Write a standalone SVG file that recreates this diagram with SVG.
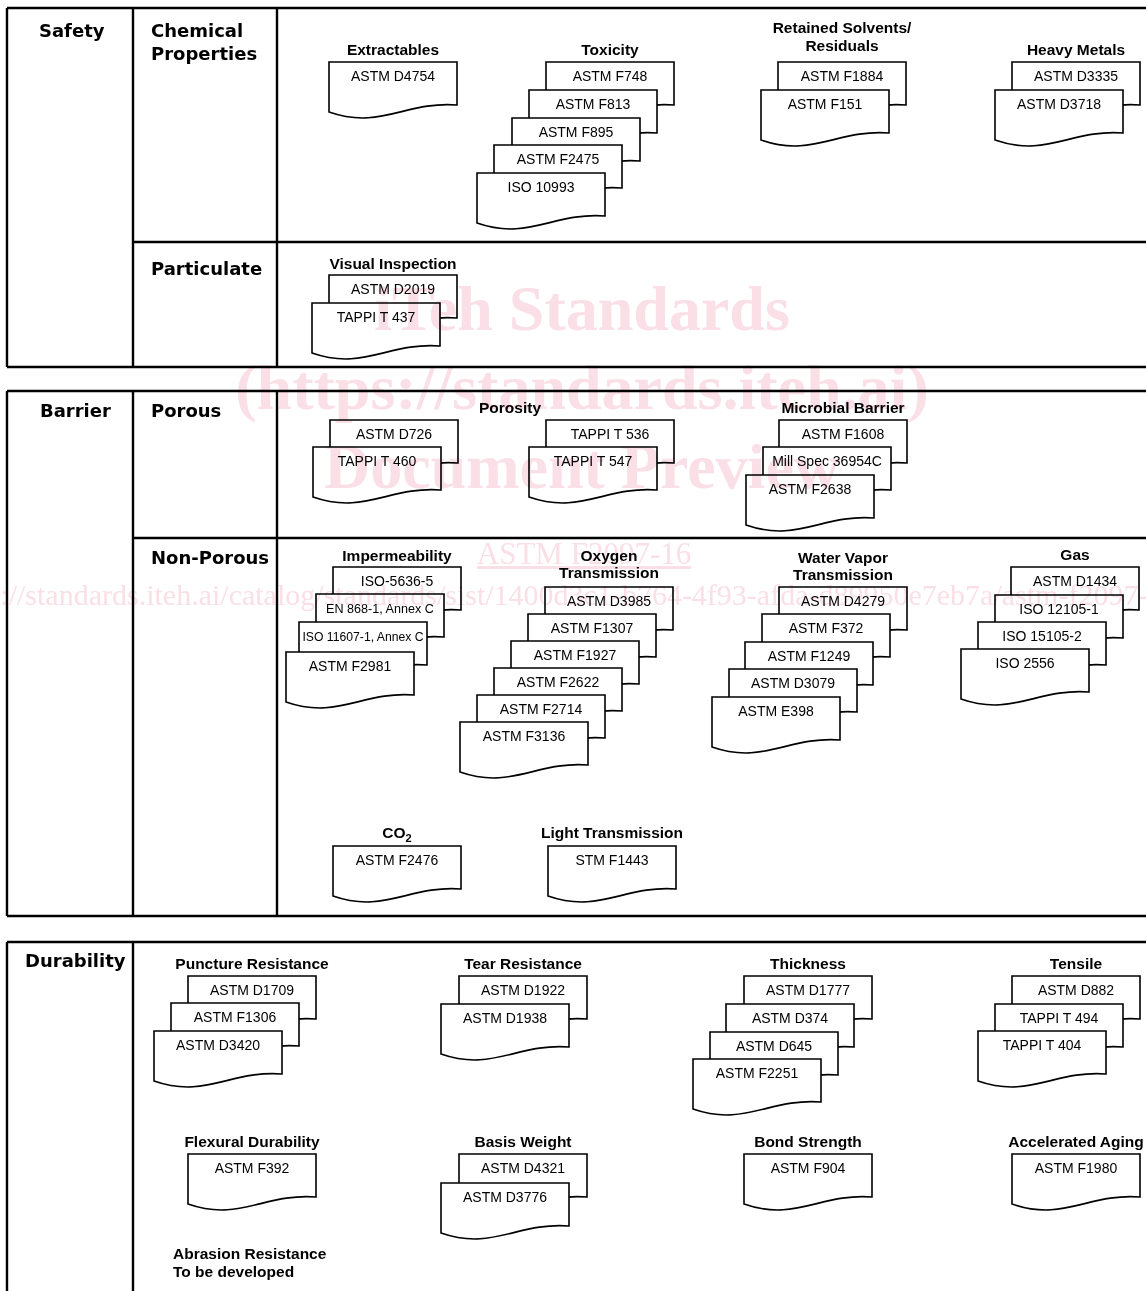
<svg xmlns="http://www.w3.org/2000/svg" xmlns:xlink="http://www.w3.org/1999/xlink" width="1146" height="1291" viewBox="0 0 1146 1291">
<style>
.tbl{stroke:#000;stroke-width:2.4;fill:none}
.doc{fill:#fff;stroke:#000;stroke-width:1.6}
.bt{font-family:"Liberation Sans",Arial,sans-serif;font-size:14px;text-anchor:middle;fill:#000}
.hd{font-family:"Liberation Sans",Arial,sans-serif;font-weight:bold;font-size:15.5px;text-anchor:middle;fill:#000}
.hl{font-family:"Liberation Sans",Arial,sans-serif;font-weight:bold;font-size:15.5px;fill:#000}
.big{font-family:"DejaVu Sans",Verdana,sans-serif;font-weight:bold;font-size:18px;fill:#000}
.wm{font-family:"Liberation Serif","Times New Roman",serif;fill:#fadfe6;mix-blend-mode:multiply}
.wmb{font-weight:bold;font-size:64px;text-anchor:middle}
</style>
<defs>
<path id="doc" d="M0,0 H128 V43 C76.8,39 51.2,68 0,50 Z"/>
</defs>
<rect width="1146" height="1291" fill="#fff"/>

<g id="grid">
<path class="tbl" d="M7,8 H1146 M7,8 V367 M133,8 V367 M277,8 V367 M133,242 H1146 M7,367 H1146"/>
<path class="tbl" d="M7,391 H1146 M7,391 V916 M133,391 V916 M277,391 V916 M133,538 H1146 M7,916 H1146"/>
<path class="tbl" d="M7,942 H1146 M7,942 V1291 M133,942 V1291"/>
</g>

<g id="labels">
<text class="big" x="39" y="37">Safety</text>
<text class="big" x="151" y="37">Chemical</text>
<text class="big" x="151" y="60">Properties</text>
<text class="big" x="151" y="275">Particulate</text>
<text class="big" x="40" y="417">Barrier</text>
<text class="big" x="151" y="417">Porous</text>
<text class="big" x="151" y="564">Non-Porous</text>
<text class="big" x="25" y="967">Durability</text>
</g>

<g id="connectors"></g>

<g id="extractables">
<text class="hd" x="393" y="55">Extractables</text>
<g id="astm-d4754"><use href="#doc" class="doc" x="329" y="62"/><text class="bt" x="393" y="81">ASTM D4754</text></g>
</g>

<g id="toxicity">
<text class="hd" x="610" y="55">Toxicity</text>
<g id="astm-f748"><use href="#doc" class="doc" x="546" y="62"/><text class="bt" x="610" y="81">ASTM F748</text></g>
<g id="astm-f813"><use href="#doc" class="doc" x="529" y="90"/><text class="bt" x="593" y="109">ASTM F813</text></g>
<g id="astm-f895"><use href="#doc" class="doc" x="512" y="118"/><text class="bt" x="576" y="137">ASTM F895</text></g>
<g id="astm-f2475"><use href="#doc" class="doc" x="494" y="145"/><text class="bt" x="558" y="164">ASTM F2475</text></g>
<g id="iso-10993"><use href="#doc" class="doc" x="477" y="173"/><text class="bt" x="541" y="192">ISO 10993</text></g>
</g>

<g id="retained">
<text class="hd" x="842" y="33">Retained Solvents/</text>
<text class="hd" x="842" y="51">Residuals</text>
<g id="astm-f1884"><use href="#doc" class="doc" x="778" y="62"/><text class="bt" x="842" y="81">ASTM F1884</text></g>
<g id="astm-f151"><use href="#doc" class="doc" x="761" y="90"/><text class="bt" x="825" y="109">ASTM F151</text></g>
</g>

<g id="heavy-metals">
<text class="hd" x="1076" y="55">Heavy Metals</text>
<g id="astm-d3335"><use href="#doc" class="doc" x="1012" y="62"/><text class="bt" x="1076" y="81">ASTM D3335</text></g>
<g id="astm-d3718"><use href="#doc" class="doc" x="995" y="90"/><text class="bt" x="1059" y="109">ASTM D3718</text></g>
</g>

<g id="visual-inspection">
<text class="hd" x="393" y="269">Visual Inspection</text>
<g id="astm-d2019"><use href="#doc" class="doc" x="329" y="275"/><text class="bt" x="393" y="294">ASTM D2019</text></g>
<g id="tappi-t437"><use href="#doc" class="doc" x="312" y="303"/><text class="bt" x="376" y="322">TAPPI T 437</text></g>
</g>

<g id="porosity">
<text class="hd" x="510" y="413">Porosity</text>
<g id="astm-d726"><use href="#doc" class="doc" x="330" y="420"/><text class="bt" x="394" y="439">ASTM D726</text></g>
<g id="tappi-t460"><use href="#doc" class="doc" x="313" y="447"/><text class="bt" x="377" y="466">TAPPI T 460</text></g>
<g id="tappi-t536"><use href="#doc" class="doc" x="546" y="420"/><text class="bt" x="610" y="439">TAPPI T 536</text></g>
<g id="tappi-t547"><use href="#doc" class="doc" x="529" y="447"/><text class="bt" x="593" y="466">TAPPI T 547</text></g>
</g>

<g id="microbial-barrier">
<text class="hd" x="843" y="413">Microbial Barrier</text>
<g id="astm-f1608"><use href="#doc" class="doc" x="779" y="420"/><text class="bt" x="843" y="439">ASTM F1608</text></g>
<g id="mill-spec"><use href="#doc" class="doc" x="763" y="447"/><text class="bt" x="827" y="466">Mill Spec 36954C</text></g>
<g id="astm-f2638"><use href="#doc" class="doc" x="746" y="475"/><text class="bt" x="810" y="494">ASTM F2638</text></g>
</g>

<g id="impermeability">
<text class="hd" x="397" y="561">Impermeability</text>
<g id="iso-5636-5"><use href="#doc" class="doc" x="333" y="567"/><text class="bt" x="397" y="586">ISO-5636-5</text></g>
<g id="en-868-1"><use href="#doc" class="doc" x="316" y="594"/><text class="bt" x="380" y="613" style="font-size:12.6px">EN 868-1, Annex C</text></g>
<g id="iso-11607-1"><use href="#doc" class="doc" x="299" y="622"/><text class="bt" x="363" y="641" style="font-size:12.2px">ISO 11607-1, Annex C</text></g>
<g id="astm-f2981"><use href="#doc" class="doc" x="286" y="652"/><text class="bt" x="350" y="671">ASTM F2981</text></g>
</g>

<g id="oxygen">
<text class="hd" x="609" y="561">Oxygen</text>
<text class="hd" x="609" y="578">Transmission</text>
<g id="astm-d3985"><use href="#doc" class="doc" x="545" y="587"/><text class="bt" x="609" y="606">ASTM D3985</text></g>
<g id="astm-f1307"><use href="#doc" class="doc" x="528" y="614"/><text class="bt" x="592" y="633">ASTM F1307</text></g>
<g id="astm-f1927"><use href="#doc" class="doc" x="511" y="641"/><text class="bt" x="575" y="660">ASTM F1927</text></g>
<g id="astm-f2622"><use href="#doc" class="doc" x="494" y="668"/><text class="bt" x="558" y="687">ASTM F2622</text></g>
<g id="astm-f2714"><use href="#doc" class="doc" x="477" y="695"/><text class="bt" x="541" y="714">ASTM F2714</text></g>
<g id="astm-f3136"><use href="#doc" class="doc" x="460" y="722"/><text class="bt" x="524" y="741">ASTM F3136</text></g>
</g>

<g id="water-vapor">
<text class="hd" x="843" y="563">Water Vapor</text>
<text class="hd" x="843" y="580">Transmission</text>
<g id="astm-d4279"><use href="#doc" class="doc" x="779" y="587"/><text class="bt" x="843" y="606">ASTM D4279</text></g>
<g id="astm-f372"><use href="#doc" class="doc" x="762" y="614"/><text class="bt" x="826" y="633">ASTM F372</text></g>
<g id="astm-f1249"><use href="#doc" class="doc" x="745" y="642"/><text class="bt" x="809" y="661">ASTM F1249</text></g>
<g id="astm-d3079"><use href="#doc" class="doc" x="729" y="669"/><text class="bt" x="793" y="688">ASTM D3079</text></g>
<g id="astm-e398"><use href="#doc" class="doc" x="712" y="697"/><text class="bt" x="776" y="716">ASTM E398</text></g>
</g>

<g id="gas">
<text class="hd" x="1075" y="560">Gas</text>
<g id="astm-d1434"><use href="#doc" class="doc" x="1011" y="567"/><text class="bt" x="1075" y="586">ASTM D1434</text></g>
<g id="iso-12105-1"><use href="#doc" class="doc" x="995" y="595"/><text class="bt" x="1059" y="614">ISO 12105-1</text></g>
<g id="iso-15105-2"><use href="#doc" class="doc" x="978" y="622"/><text class="bt" x="1042" y="641">ISO 15105-2</text></g>
<g id="iso-2556"><use href="#doc" class="doc" x="961" y="649"/><text class="bt" x="1025" y="668">ISO 2556</text></g>
</g>

<g id="co2">
<text class="hd" x="397" y="838">CO<tspan font-size="11" dy="4">2</tspan></text>
<g id="astm-f2476"><use href="#doc" class="doc" x="333" y="846"/><text class="bt" x="397" y="865">ASTM F2476</text></g>
</g>

<g id="light-transmission">
<text class="hd" x="612" y="838">Light Transmission</text>
<g id="stm-f1443"><use href="#doc" class="doc" x="548" y="846"/><text class="bt" x="612" y="865">STM F1443</text></g>
</g>

<g id="puncture">
<text class="hd" x="252" y="969">Puncture Resistance</text>
<g id="astm-d1709"><use href="#doc" class="doc" x="188" y="976"/><text class="bt" x="252" y="995">ASTM D1709</text></g>
<g id="astm-f1306"><use href="#doc" class="doc" x="171" y="1003"/><text class="bt" x="235" y="1022">ASTM F1306</text></g>
<g id="astm-d3420"><use href="#doc" class="doc" x="154" y="1031"/><text class="bt" x="218" y="1050">ASTM D3420</text></g>
</g>

<g id="tear">
<text class="hd" x="523" y="969">Tear Resistance</text>
<g id="astm-d1922"><use href="#doc" class="doc" x="459" y="976"/><text class="bt" x="523" y="995">ASTM D1922</text></g>
<g id="astm-d1938"><use href="#doc" class="doc" x="441" y="1004"/><text class="bt" x="505" y="1023">ASTM D1938</text></g>
</g>

<g id="thickness">
<text class="hd" x="808" y="969">Thickness</text>
<g id="astm-d1777"><use href="#doc" class="doc" x="744" y="976"/><text class="bt" x="808" y="995">ASTM D1777</text></g>
<g id="astm-d374"><use href="#doc" class="doc" x="726" y="1004"/><text class="bt" x="790" y="1023">ASTM D374</text></g>
<g id="astm-d645"><use href="#doc" class="doc" x="710" y="1032"/><text class="bt" x="774" y="1051">ASTM D645</text></g>
<g id="astm-f2251"><use href="#doc" class="doc" x="693" y="1059"/><text class="bt" x="757" y="1078">ASTM F2251</text></g>
</g>

<g id="tensile">
<text class="hd" x="1076" y="969">Tensile</text>
<g id="astm-d882"><use href="#doc" class="doc" x="1012" y="976"/><text class="bt" x="1076" y="995">ASTM D882</text></g>
<g id="tappi-t494"><use href="#doc" class="doc" x="995" y="1004"/><text class="bt" x="1059" y="1023">TAPPI T 494</text></g>
<g id="tappi-t404"><use href="#doc" class="doc" x="978" y="1031"/><text class="bt" x="1042" y="1050">TAPPI T 404</text></g>
</g>

<g id="flexural">
<text class="hd" x="252" y="1147">Flexural Durability</text>
<g id="astm-f392"><use href="#doc" class="doc" x="188" y="1154"/><text class="bt" x="252" y="1173">ASTM F392</text></g>
</g>

<g id="basis-weight">
<text class="hd" x="523" y="1147">Basis Weight</text>
<g id="astm-d4321"><use href="#doc" class="doc" x="459" y="1154"/><text class="bt" x="523" y="1173">ASTM D4321</text></g>
<g id="astm-d3776"><use href="#doc" class="doc" x="441" y="1183"/><text class="bt" x="505" y="1202">ASTM D3776</text></g>
</g>

<g id="bond-strength">
<text class="hd" x="808" y="1147">Bond Strength</text>
<g id="astm-f904"><use href="#doc" class="doc" x="744" y="1154"/><text class="bt" x="808" y="1173">ASTM F904</text></g>
</g>

<g id="accelerated-aging">
<text class="hd" x="1076" y="1147">Accelerated Aging</text>
<g id="astm-f1980"><use href="#doc" class="doc" x="1012" y="1154"/><text class="bt" x="1076" y="1173">ASTM F1980</text></g>
</g>

<g id="abrasion">
<text class="hl" x="173" y="1259">Abrasion Resistance</text>
<text class="hl" x="173" y="1277">To be developed</text>
</g>

<g id="watermark">
<text class="wm wmb" x="582" y="330">iTeh Standards</text>
<text class="wm wmb" x="582" y="409">(https://standards.iteh.ai)</text>
<text class="wm wmb" x="582" y="488">Document Preview</text>
<text class="wm" x="584" y="564" font-size="31" text-anchor="middle" text-decoration="underline">ASTM F2097-16</text>
<text class="wm" x="-58" y="605" font-size="30">https://standards.iteh.ai/catalog/standards/sist/1400d3c1-b764-4f93-afda-d89950e7eb7a/astm-f2097-16</text>
</g>
</svg>
